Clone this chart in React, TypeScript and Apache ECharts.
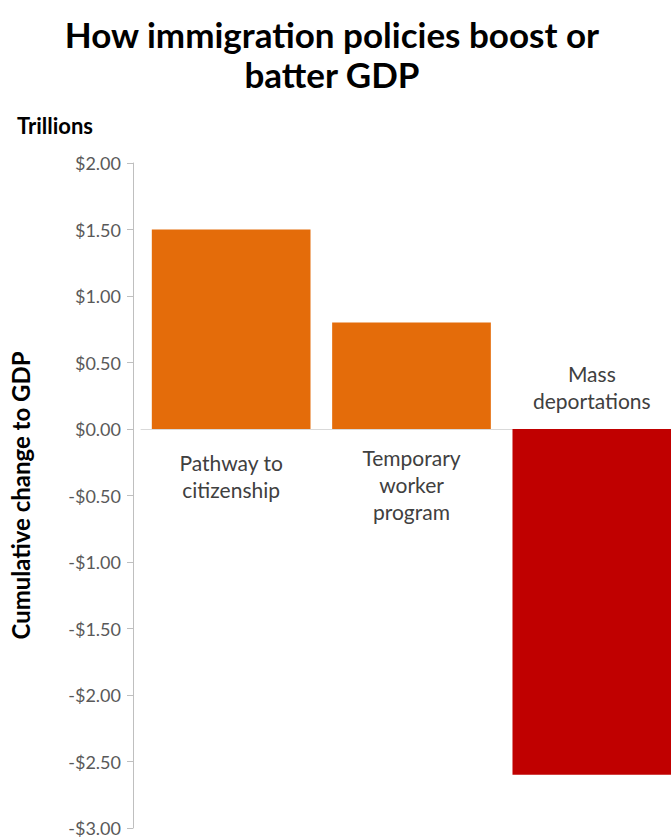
import React, { useEffect, useRef } from "react";
import * as echarts from "echarts";

const categories = ["Pathway to\ncitizenship", "Temporary\nworker\nprogram", "Mass\ndeportations"];
const values = [1.5, 0.8, -2.6];
const barColors = ["#E46C0A", "#E46C0A", "#C00000"];
const yTicks = { min: -3, max: 2, interval: 0.5 };

const FONT = "Lato, 'Open Sans', sans-serif";

export default function App() {
  const ref = useRef<HTMLDivElement>(null);
  useEffect(() => {
    document.body.style.margin = "0";
    const chart = echarts.init(ref.current!, null, { renderer: "svg" });
    chart.setOption({
      animation: false,
      backgroundColor: "#ffffff",
      textStyle: { fontFamily: FONT },
      graphic: [
        {
          type: "text",
          x: 332,
          y: 14,
          style: {
            text: "How immigration policies boost or\nbatter GDP",
            font: `bold 35px ${FONT}`,
            fill: "#000000",
            align: "center",
            lineHeight: 40,
          },
        },
        {
          type: "text",
          left: 17,
          top: 114,
          style: { text: "Trillions", font: `bold 22px ${FONT}`, fill: "#000000" },
        },
      ],
      grid: { left: 136, top: 163, height: 665, right: 0, containLabel: false },
      xAxis: {
        type: "category",
        data: categories,
        axisLine: { show: true, onZero: true, lineStyle: { color: "#d9d9d9", width: 1 } },
        axisTick: { show: false },
        axisLabel: { show: false },
      },
      yAxis: {
        type: "value",
        min: yTicks.min,
        max: yTicks.max,
        interval: yTicks.interval,
        offset: 8,
        name: "Cumulative change to GDP",
        nameLocation: "middle",
        nameRotate: 90,
        nameGap: 101,
        nameTextStyle: { fontFamily: FONT, fontWeight: "bold", fontSize: 24, color: "#000000" },
        axisLine: { show: true, lineStyle: { color: "#bfbfbf", width: 1 } },
        axisTick: { show: true, inside: false, length: 6, lineStyle: { color: "#bfbfbf" } },
        splitLine: { show: false },
        axisLabel: {
          margin: 12,
          fontFamily: FONT,
          fontSize: 18,
          color: "#595959",
          formatter: (v: number) => (v < 0 ? "-$" + Math.abs(v).toFixed(2) : "$" + v.toFixed(2)),
        },
      },
      series: [
        {
          type: "bar",
          barCategoryGap: "12%",
          data: values.map((v, i) => ({
            value: v,
            itemStyle: { color: barColors[i] },
            label: {
              show: true,
              position: v >= 0 ? "bottom" : "top",
              distance: i === 0 ? 20 : 15,
              formatter: categories[i],
              fontFamily: FONT,
              fontSize: 21,
              lineHeight: 27,
              color: "#404040",
              align: "center",
            },
          })),
        },
      ],
    });
    return () => chart.dispose();
  }, []);
  return <div ref={ref} style={{ position: "fixed", left: 0, top: 0, width: 682, height: 839 }} />;
}
